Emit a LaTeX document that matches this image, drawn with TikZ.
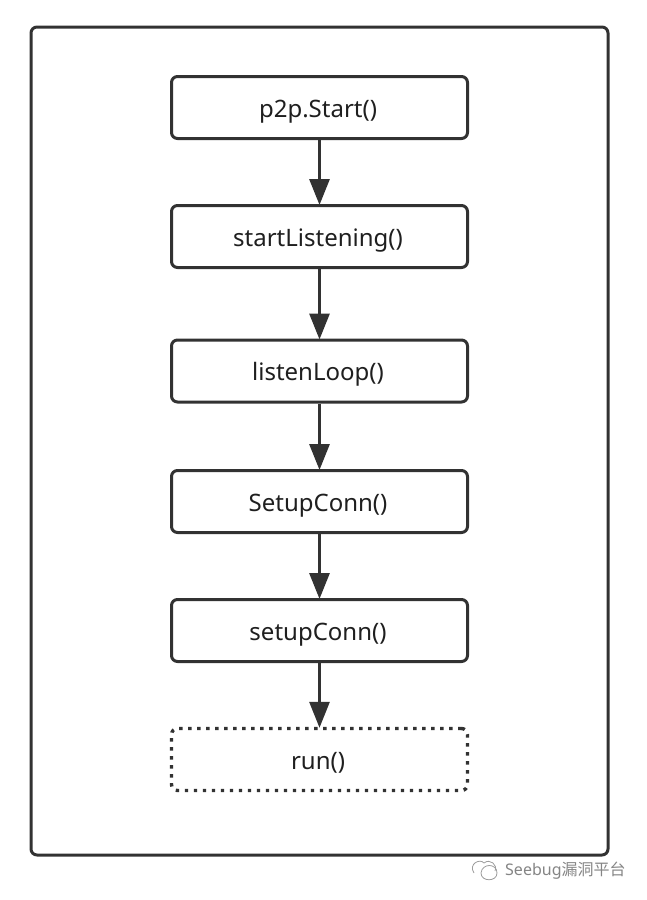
\documentclass[tikz,border=0pt]{standalone}
\usepackage{fontspec}
\setmainfont{Noto Sans}
\newfontfamily\cjk{Noto Sans CJK SC}
\usetikzlibrary{arrows.meta}
\definecolor{ink}{HTML}{323232}
\definecolor{wm}{HTML}{858585}
\newcommand{\steptext}[1]{\hspace*{-3pt}\raisebox{-9.5pt}[0pt][0pt]{#1}}
\tikzset{
  x=1pt,y=-1pt,
  stepbox/.style={draw=ink,line width=3pt,rounded corners=6pt,minimum width=296pt,minimum height=62pt,inner sep=0pt,fill=white,text=black!88,font=\fontsize{24}{28}\selectfont,anchor=center},
  dotbox/.style={stepbox,draw=ink,line width=3.4pt,dash pattern=on 3.4pt off 5.6pt,line cap=butt},
  flow/.style={draw=ink,line width=3pt,-{Triangle[length=26pt,width=20pt,fill=ink]},shorten >=-1pt},
  frame/.style={draw=ink,line width=3pt,rounded corners=6pt,minimum width=577pt,minimum height=828pt,inner sep=0pt,anchor=center},
  mark text/.style={text=wm,font=\fontsize{16}{18}\selectfont,inner sep=0pt,anchor=west},
  mark line/.style={draw=wm!80,line width=0.8pt}
}
\begin{document}
\begin{tikzpicture}
\useasboundingbox (0,0) rectangle (646,900);
\node[frame] (outer) at (319.5,441) {};
\node[stepbox] (a) at (319.5,107.5) {\steptext{p2p.Start()}};
\node[stepbox] (b) at (319.5,236.5) {\steptext{startListening()}};
\node[stepbox] (c) at (319.5,371) {\steptext{listenLoop()}};
\node[stepbox] (d) at (319.5,501.5) {\steptext{SetupConn()}};
\node[stepbox] (e) at (319.5,630.5) {\steptext{setupConn()}};
\node[dotbox] (f) at (319.5,759.5) {\steptext{run()}};
\draw[flow] (a) -- (b);
\draw[flow] (b) -- (c);
\draw[flow] (c) -- (d);
\draw[flow] (d) -- (e);
\draw[flow] (e) -- (f);
\draw[mark line] (474,873) .. controls (468,864) and (480,858) .. (484,863) .. controls (490,858) and (498,865) .. (495,871);
\draw[mark line] (481,873) .. controls (482,863) and (497,863) .. (497,873) .. controls (497,882) and (481,882) .. (481,873);
\node[mark text] (w) at (505,870.5) {Seebug{\cjk 漏洞平台}};
\end{tikzpicture}
\end{document}
